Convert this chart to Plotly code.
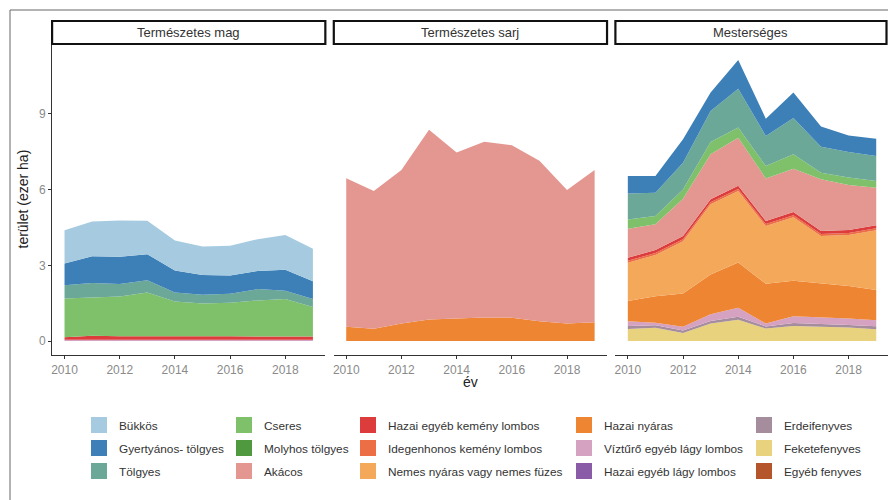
import plotly.graph_objects as go

years = list(range(2010, 2020))
x_ticks = [2010, 2012, 2014, 2016, 2018]
y_ticks = [0, 3, 6, 9]

panels = ["Természetes mag", "Természetes sarj", "Mesterséges"]

# legend / stacking order (first = top of stack)
species = [
    "Bükkös", "Gyertyános- tölgyes", "Tölgyes",
    "Cseres", "Molyhos tölgyes", "Akácos",
    "Hazai egyéb kemény lombos", "Idegenhonos kemény lombos", "Nemes nyáras vagy nemes füzes",
    "Hazai nyáras", "Víztűrő egyéb lágy lombos", "Hazai egyéb lágy lombos",
    "Erdeifenyves", "Feketefenyves", "Egyéb fenyves",
]
colors = [
    "#A6CBE0", "#3D80B8", "#6BA898",
    "#7EC16A", "#4F9A3E", "#E49690",
    "#DD3C3C", "#EC6E45", "#F4A85A",
    "#EE8533", "#D6A2C1", "#8A5CA8",
    "#A58D9E", "#E9D27E", "#B5552B",
]

# Természetes mag (ezer ha)
mag = {
    "Bükkös":                    [1.32, 1.38, 1.44, 1.33, 1.19, 1.13, 1.18, 1.26, 1.37, 1.29],
    "Gyertyános- tölgyes":       [0.86, 1.06, 1.08, 1.03, 0.87, 0.78, 0.72, 0.72, 0.83, 0.70],
    "Tölgyes":                   [0.52, 0.58, 0.49, 0.48, 0.36, 0.35, 0.36, 0.45, 0.33, 0.32],
    "Cseres":                    [1.54, 1.51, 1.58, 1.73, 1.38, 1.30, 1.33, 1.43, 1.49, 1.17],
    "Hazai egyéb kemény lombos": [0.10, 0.15, 0.14, 0.15, 0.14, 0.14, 0.14, 0.13, 0.13, 0.13],
    "Víztűrő egyéb lágy lombos": [0.05, 0.06, 0.05, 0.05, 0.05, 0.05, 0.05, 0.05, 0.05, 0.05],
}

# Természetes sarj (ezer ha)
sarj = {
    "Akácos":       [5.88, 5.46, 6.08, 7.51, 6.57, 6.96, 6.83, 6.36, 5.29, 6.03],
    "Hazai nyáras": [0.57, 0.49, 0.70, 0.86, 0.90, 0.94, 0.93, 0.79, 0.70, 0.75],
}

# Mesterséges (ezer ha)
mest = {
    "Gyertyános- tölgyes":           [0.69, 0.66, 0.93, 0.73, 1.14, 0.68, 1.01, 0.80, 0.66, 0.69],
    "Tölgyes":                       [1.03, 0.92, 1.06, 1.23, 1.54, 1.19, 1.44, 1.03, 1.01, 0.99],
    "Cseres":                        [0.37, 0.33, 0.37, 0.49, 0.40, 0.50, 0.57, 0.26, 0.30, 0.26],
    "Akácos":                        [1.15, 1.02, 1.48, 1.78, 1.91, 1.68, 1.72, 2.05, 1.78, 1.49],
    "Hazai egyéb kemény lombos":     [0.12, 0.12, 0.12, 0.12, 0.12, 0.12, 0.12, 0.12, 0.12, 0.12],
    "Idegenhonos kemény lombos":     [0.08, 0.08, 0.08, 0.08, 0.08, 0.08, 0.08, 0.08, 0.08, 0.08],
    "Nemes nyáras vagy nemes füzes": [1.51, 1.63, 2.07, 2.78, 2.84, 2.29, 2.52, 1.87, 2.02, 2.37],
    "Hazai nyáras":                  [0.80, 1.05, 1.32, 1.58, 1.79, 1.57, 1.40, 1.34, 1.28, 1.19],
    "Víztűrő egyéb lágy lombos":     [0.19, 0.10, 0.15, 0.26, 0.35, 0.12, 0.27, 0.26, 0.26, 0.24],
    "Erdeifenyves":                  [0.12, 0.10, 0.10, 0.10, 0.12, 0.08, 0.12, 0.11, 0.10, 0.12],
    "Feketefenyves":                 [0.48, 0.53, 0.32, 0.70, 0.85, 0.50, 0.60, 0.58, 0.54, 0.47],
}

panel_data = [mag, sarj, mest]

W, H = 888, 500
FONT = "Liberation Sans, Arial, sans-serif"

# panel geometry in pixels
px_per_year = 27.6
panel_left = [52.1, 333.8, 615.4]
panel_top, panel_bottom = 44.0, 355.0
strip_top = 21.0
y_range = [-0.55, 11.77]

fig = go.Figure()

for i, data in enumerate(panel_data):
    ax = "" if i == 0 else str(i + 1)
    # add from bottom of stack to top
    for name, col in reversed(list(zip(species, colors))):
        if name not in data:
            continue
        fig.add_trace(go.Scatter(
            x=years, y=data[name], name=name,
            mode="lines", line=dict(width=0, color=col),
            fill="tonexty", fillcolor=col, stackgroup="p%d" % i,
            showlegend=False, hoverinfo="x+y+name",
            xaxis="x" + ax, yaxis="y" + ax,
        ))

# legend: 5 columns x 3 rows, column-major as in the reference
legend_key_centers = [99, 244, 368, 584, 764]
for k, (name, col) in enumerate(zip(species, colors)):
    lg = "legend" if k // 3 == 0 else "legend%d" % (k // 3 + 1)
    fig.add_trace(go.Scatter(
        x=[None], y=[None], mode="markers", name=name,
        marker=dict(symbol="square", size=16, color=col, line=dict(width=0)),
        legend=lg, legendgroup=name, showlegend=True,
    ))

layout = dict(
    width=W, height=H,
    margin=dict(l=0, r=0, t=0, b=0),
    paper_bgcolor="white", plot_bgcolor="white",
    font=dict(family=FONT, color="#333333"),
    showlegend=True,
)

ydom = [1 - panel_bottom / H, 1 - panel_top / H]
for i in range(3):
    ax = "" if i == 0 else str(i + 1)
    left = panel_left[i]
    right = min(left + 9.9 * px_per_year, W)
    xr = [2009.55, 2009.55 + (right - left) / px_per_year]
    layout["xaxis" + ax] = dict(
        domain=[left / W, right / W], range=xr, anchor="y" + ax,
        tickvals=x_ticks, showline=True, linecolor="#333333", linewidth=1.2,
        ticks="outside", ticklen=3, tickwidth=1, tickcolor="#333333",
        tickfont=dict(size=12, color="#8a8a8a", family=FONT),
        showgrid=False, zeroline=False, fixedrange=True,
    )
    layout["yaxis" + ax] = dict(
        domain=ydom, range=y_range, anchor="x" + ax,
        tickvals=y_ticks, showline=(i == 0), linecolor="#333333", linewidth=1.2,
        ticks="outside" if i == 0 else "", ticklen=3, tickwidth=1, tickcolor="#333333",
        showticklabels=(i == 0),
        tickfont=dict(size=12, color="#8a8a8a", family=FONT),
        showgrid=False, zeroline=False, fixedrange=True,
    )

for k, c in enumerate(legend_key_centers):
    key = "legend" if k == 0 else "legend%d" % (k + 1)
    layout[key] = dict(
        x=(c - 20) / W, xanchor="left", y=1 - 410.5 / H, yanchor="top",
        orientation="v", bgcolor="rgba(0,0,0,0)", borderwidth=0,
        font=dict(size=11.8, color="#333333", family=FONT),
        tracegroupgap=4, itemclick=False, itemdoubleclick=False,
    )

shapes = []
annotations = []
# outer frame (cropped on right and bottom)
shapes.append(dict(type="line", xref="paper", yref="paper",
                   x0=10 / W, x1=10 / W, y0=0, y1=1 - 10 / H,
                   line=dict(color="#666666", width=1)))
shapes.append(dict(type="line", xref="paper", yref="paper",
                   x0=10 / W, x1=1, y0=1 - 10 / H, y1=1 - 10 / H,
                   line=dict(color="#666666", width=1)))
# facet strips
for i, title in enumerate(panels):
    left = panel_left[i]
    right = min(left + 9.9 * px_per_year, W - 1.5)
    shapes.append(dict(type="rect", xref="paper", yref="paper",
                       x0=left / W, x1=right / W,
                       y0=1 - panel_top / H, y1=1 - strip_top / H,
                       line=dict(color="#111111", width=2.2), fillcolor="white"))
    annotations.append(dict(text=title, xref="paper", yref="paper",
                            x=(left + right) / 2 / W, y=1 - (strip_top + panel_top) / 2 / H,
                            xanchor="center", yanchor="middle", showarrow=False,
                            font=dict(size=13, color="#333333", family=FONT)))
# axis titles
annotations.append(dict(text="terület (ezer ha)", xref="paper", yref="paper",
                        x=22 / W, y=1 - (panel_top + panel_bottom) / 2 / H, textangle=-90,
                        xanchor="center", yanchor="middle", showarrow=False,
                        font=dict(size=14, color="#222222", family=FONT)))
annotations.append(dict(text="év", xref="paper", yref="paper",
                        x=470 / W, y=1 - 382 / H,
                        xanchor="center", yanchor="middle", showarrow=False,
                        font=dict(size=14, color="#222222", family=FONT)))

layout["shapes"] = shapes
layout["annotations"] = annotations
fig.update_layout(**layout)

fig.write_html("out.html", config={"displayModeBar": False},
               post_script="document.body.style.margin='0px';")
